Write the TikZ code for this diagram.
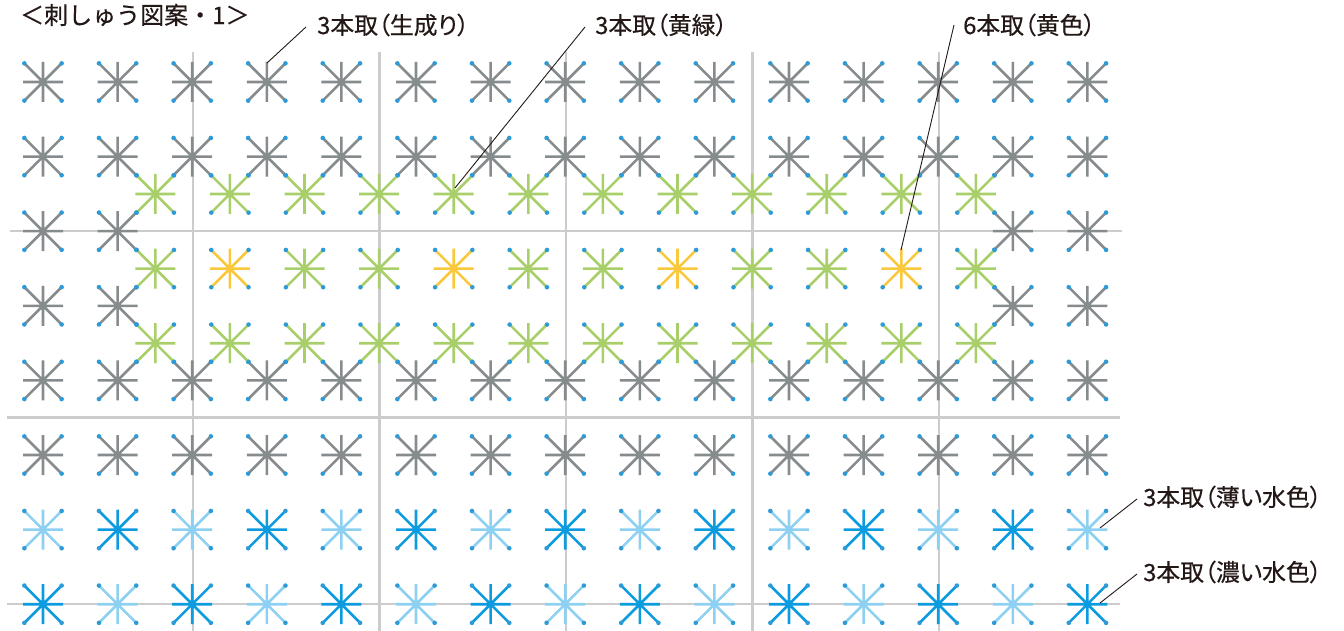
\documentclass[tikz,border=0pt]{standalone}
\usepackage{fontspec}
\newfontfamily\jp[RawFeature=+palt,FakeBold=0.4]{Noto Sans CJK JP}
\newfontfamily\jpt[FakeBold=0.4]{Noto Sans CJK JP}
\definecolor{cgray}{HTML}{868B8E}
\definecolor{cgreen}{HTML}{A9CF6B}
\definecolor{cyellow}{HTML}{F9C83C}
\definecolor{clblue}{HTML}{8DD0F1}
\definecolor{cdblue}{HTML}{0D9BE0}
\definecolor{cdot}{HTML}{2E9BD6}
\definecolor{cgrid}{HTML}{CCCCCC}
\definecolor{ctext}{HTML}{231815}
\tikzset{
  pics/stitch/.style={code={
    \draw[line width=2.6pt, #1] (-20,0)--(20,0) (0,-20)--(0,20)
      (-18.65,-18.65)--(18.65,18.65) (-18.65,18.65)--(18.65,-18.65);
    \fill[cdot] (-18.65,-18.65) circle[radius=2.3pt] (18.65,18.65) circle[radius=2.3pt]
      (-18.65,18.65) circle[radius=2.3pt] (18.65,-18.65) circle[radius=2.3pt];
  }},
  gridline/.style={cgrid, line width=2.6pt},
  leader/.style={ctext, line width=0.9pt},
  lbl/.style={anchor=west, inner sep=0pt, text=ctext, font=\jp\fontsize{23.8}{25}\selectfont},
  ttl/.style={anchor=west, inner sep=0pt, text=ctext, font=\jpt\fontsize{24}{26}\selectfont}
}
\begin{document}
\begin{tikzpicture}[x=1pt,y=-1pt]
\useasboundingbox (0,0) rectangle (1344,631);
% background grid
\foreach \x in {193,379.5,566,752.5,939} \draw[gridline] (\x,52) -- (\x,631);
\draw[gridline] (10,231) -- (1122,231);
\draw[gridline] (7,417.5) -- (1120,417.5);
\draw[gridline] (7,604) -- (1120,604);
% gray stitches
\foreach \r in {0,1,4,5} \foreach \c in {0,...,14}
  \pic at ({43+\c*74.6},{82+\r*74.6}) {stitch=cgray};
\foreach \r in {2,3} \foreach \c in {0,1,13,14}
  \pic at ({43+\c*74.6},{82+\r*74.6}) {stitch=cgray};
% blue rows
\foreach \c in {0,2,...,14} {
  \pic at ({43+\c*74.6},529.6) {stitch=clblue};
  \pic at ({43+\c*74.6},604.2) {stitch=cdblue};
}
\foreach \c in {1,3,...,13} {
  \pic at ({43+\c*74.6},529.6) {stitch=cdblue};
  \pic at ({43+\c*74.6},604.2) {stitch=clblue};
}
% green / yellow stitches
\foreach \k in {0,...,11} {
  \pic at ({155.3+\k*74.6},194) {stitch=cgreen};
  \pic at ({155.3+\k*74.6},343.2) {stitch=cgreen};
}
\foreach \k in {0,2,3,5,6,8,9,11}
  \pic at ({155.3+\k*74.6},268.6) {stitch=cgreen};
\foreach \k in {1,4,7,10}
  \pic at ({155.3+\k*74.6},268.6) {stitch=cyellow};
% texts
\node[ttl] (title) at (20,15) {＜刺しゅう図案・1＞};
\node[lbl] (l1) at (317,25) {3本取（生成り）};
\node[lbl] (l2) at (595,25) {3本取（黄緑）};
\node[lbl] (l3) at (963,25) {6本取（黄色）};
\node[lbl] (l4) at (1143,497) {3本取（薄い水色）};
\node[lbl] (l5) at (1143,572) {3本取（濃い水色）};
% leader targets
\coordinate (t1) at (267,63);
\coordinate (t2) at (455,188);
\coordinate (t3) at (901,250);
\coordinate (t4) at (1100,528);
\coordinate (t5) at (1100,603);
\draw[leader] ([xshift=-11pt,yshift=-2pt]l1.west) -- (t1);
\draw[leader] ([xshift=-10pt,yshift=-2pt]l2.west) -- (t2);
\draw[leader] ([xshift=-9pt]l3.west) -- (t3);
\draw[leader] ([xshift=-6pt,yshift=-2pt]l4.west) -- (t4);
\draw[leader] ([xshift=-6pt,yshift=-2pt]l5.west) -- (t5);
\end{tikzpicture}
\end{document}
